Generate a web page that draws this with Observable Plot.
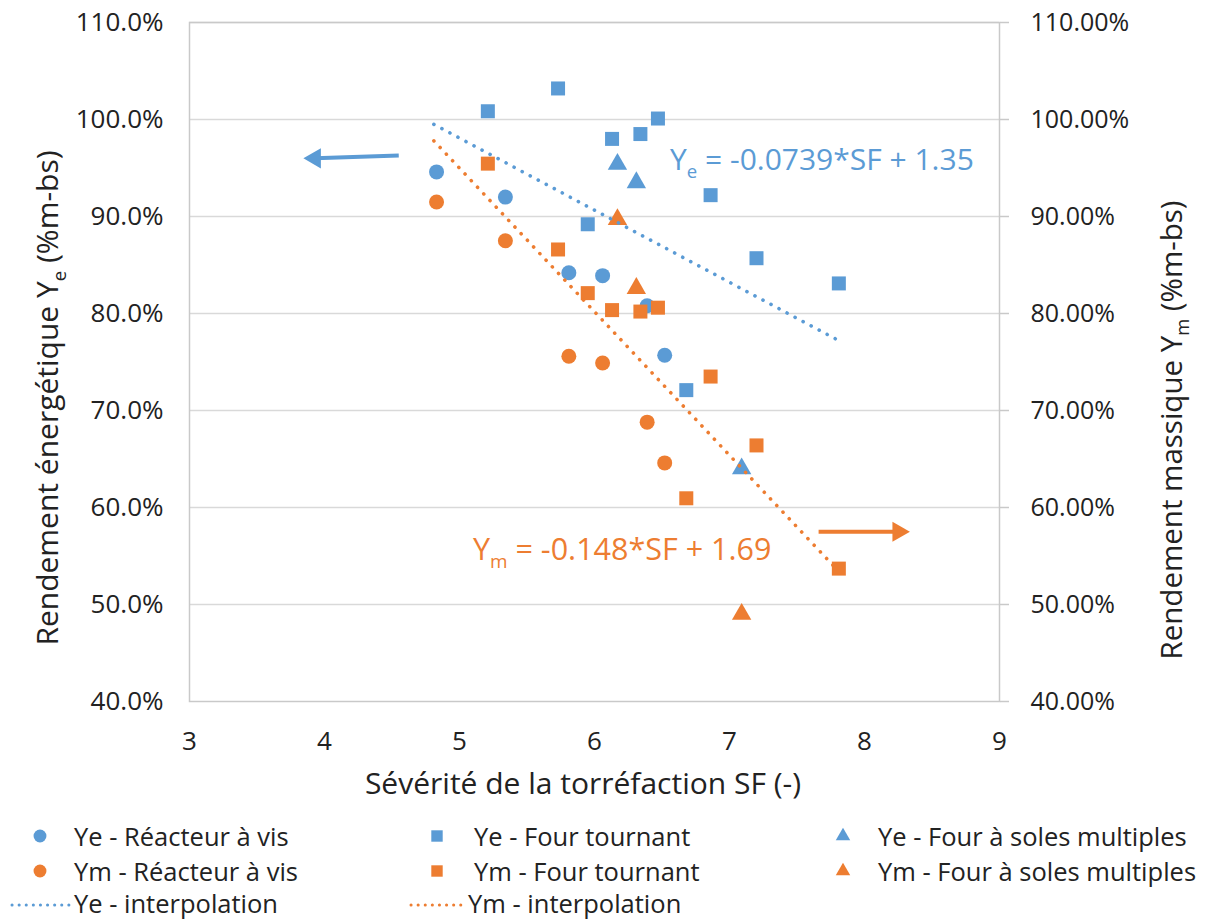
<!DOCTYPE html>
<html><head><meta charset="utf-8">
<script src="https://cdn.jsdelivr.net/npm/d3@7"></script>
<script src="https://cdn.jsdelivr.net/npm/@observablehq/plot@0.6"></script>
<style>
body{margin:0;background:#fff;font-family:"Open Sans",sans-serif;}
#wrap{position:relative;width:1210px;height:924px;overflow:hidden;}
#chart{position:absolute;left:0;top:0;}
.lt{position:absolute;font-size:25.5px;color:#222;white-space:nowrap;line-height:1.2;transform:translateY(-50%);}
#legsw{position:absolute;left:0;top:0;}
</style></head><body><div id="wrap"><div id="chart"></div><svg id="legsw" width="1210" height="924"></svg></div>
<script>
const BLUE = "#5B9BD5", ORANGE = "#ED7D31";

// Sévérité de la torréfaction SF (-) per reactor
const sfVis = [4.83, 5.34, 5.81, 6.06, 6.39, 6.52];
const yeVis = [94.6, 92.0, 84.2, 83.9, 80.8, 75.7];
const ymVis = [91.5, 87.5, 75.6, 74.9, 68.8, 64.6];

const sfTournant = [5.21, 5.73, 5.95, 6.13, 6.34, 6.47, 6.68, 6.86, 7.20, 7.81];
const yeTournant = [100.85, 103.2, 89.2, 98.0, 98.5, 100.1, 72.1, 92.2, 85.7, 83.1];
const ymTournant = [95.45, 86.6, 82.1, 80.35, 80.2, 80.6, 60.95, 73.5, 66.4, 53.7];

const sfSoles = [6.17, 6.31, 7.09];
const yeSoles = [95.4, 93.5, 64.0];
const ymSoles = [89.7, 82.6, 49.0];

// trend lines (interpolation), endpoints
const trendSF = [4.81, 7.81];
const trendYe = [99.5, 77.2];
const trendYm = [97.8, 53.4];

// annotation arrows
const arrowYe = {x1: 4.55, x2: 3.93, y1: 96.3, y2: 96.0};
const arrowYm = {x1: 7.66, x2: 8.25, y1: 57.5, y2: 57.5};

const xTicks = [3, 4, 5, 6, 7, 8, 9];
const yTicks = [40, 50, 60, 70, 80, 90, 100, 110];
const gridY = [50, 60, 70, 80, 90, 100, 110];

const seriesDefs = [
  {name: "Ye - Réacteur à vis", sf: sfVis, v: yeVis, symbol: "circle", color: BLUE, r: 7.5},
  {name: "Ye - Four tournant", sf: sfTournant, v: yeTournant, symbol: "square", color: BLUE, r: 7.9},
  {name: "Ye - Four à soles multiples", sf: sfSoles, v: yeSoles, symbol: "triangle", color: BLUE, r: 7.2},
  {name: "Ym - Réacteur à vis", sf: sfVis, v: ymVis, symbol: "circle", color: ORANGE, r: 7.5},
  {name: "Ym - Four tournant", sf: sfTournant, v: ymTournant, symbol: "square", color: ORANGE, r: 7.9},
  {name: "Ym - Four à soles multiples", sf: sfSoles, v: ymSoles, symbol: "triangle", color: ORANGE, r: 7.2}
];

const dotMarks = seriesDefs.map(s => {
  const rows = s.sf.map((x, i) => ({x, y: s.v[i]}));
  return Plot.dot(rows, {x: "x", y: "y", symbol: () => s.symbol, fill: s.color, r: s.r, stroke: "none"});
});

const trendRowsYe = trendSF.map((x, i) => ({x, y: trendYe[i]}));
const trendRowsYm = trendSF.map((x, i) => ({x, y: trendYm[i]}));

const chart = Plot.plot({
  width: 1210, height: 805,
  marginLeft: 189, marginRight: 211, marginTop: 22, marginBottom: 104,
  x: {domain: [3, 9]},
  y: {domain: [40, 110]},
  style: {fontFamily: "Open Sans", fontSize: "25px", color: "#222", background: "white", overflow: "visible"},
  marks: [
    Plot.ruleY(gridY, {stroke: "#d9d9d9", strokeWidth: 1.5}),
    Plot.frame({stroke: "#c9c9c9", strokeWidth: 1.5}),
    Plot.axisX({ticks: xTicks, tickSize: 0, tickPadding: 30, label: null, fill: "#222", fontSize: 26, tickFormat: d => String(d)}),
    Plot.axisY({anchor: "left", ticks: yTicks, tickSize: 0, tickPadding: 26, label: null, fill: "#222", fontSize: 26, tickFormat: d => d.toFixed(1) + "%"}),
    Plot.axisY({anchor: "right", ticks: yTicks, tickSize: 9, tickPadding: 22, label: null, stroke: "#c9c9c9", strokeWidth: 1.5, fill: "#222", fontSize: 25, tickFormat: d => d.toFixed(2) + "%"}),
    ...dotMarks,
    Plot.line(trendRowsYe, {x: "x", y: "y", stroke: BLUE, strokeWidth: 3.6, strokeDasharray: "0.1 9", strokeLinecap: "round"}),
    Plot.line(trendRowsYm, {x: "x", y: "y", stroke: ORANGE, strokeWidth: 3.6, strokeDasharray: "0.1 9", strokeLinecap: "round"}),
    Plot.link([arrowYe], {x1: "x1", y1: "y1", x2: "x2", y2: "y2", stroke: BLUE, strokeWidth: 4}),
    Plot.dot([arrowYe], {x: "x2", y: "y2", symbol: "triangle", rotate: -90, r: 7.5, fill: BLUE, stroke: "none"}),
    Plot.link([arrowYm], {x1: "x1", y1: "y1", x2: "x2", y2: "y2", stroke: ORANGE, strokeWidth: 4}),
    Plot.dot([arrowYm], {x: "x2", y: "y2", symbol: "triangle", rotate: 90, r: 7.5, fill: ORANGE, stroke: "none"})
  ]
});
document.getElementById("chart").appendChild(chart);

// rich texts with subscripts
const svg = d3.select(chart);
function rich(x, y, parts, {size = 25, color = "#222", rotate = 0, anchor = "middle"} = {}) {
  const t = svg.append("text")
    .attr("transform", `translate(${x},${y}) rotate(${rotate})`)
    .attr("text-anchor", anchor)
    .attr("font-family", "Open Sans")
    .attr("font-size", size)
    .attr("fill", color);
  parts.forEach(p => {
    const s = t.append("tspan").text(p.t);
    if (p.sub) s.attr("font-size", size * 0.62).attr("dy", size * 0.25);
    else if (p.after) s.attr("dy", -size * 0.25);
  });
  return t;
}
rich(583, 794, [{t: "Sévérité de la torréfaction SF (-)"}], {size: 30});
rich(58, 398, [{t: "Rendement énergétique Y"}, {t: "e", sub: true}, {t: " (%m-bs)", after: true}], {size: 30, rotate: -90});
rich(1182, 430, [{t: "Rendement massique Y"}, {t: "m", sub: true}, {t: " (%m-bs)", after: true}], {size: 29.5, rotate: -90});
rich(670, 170, [{t: "Y"}, {t: "e", sub: true}, {t: " = -0.0739*SF + 1.35", after: true}], {size: 30, color: BLUE, anchor: "start"});
rich(473, 560, [{t: "Y"}, {t: "m", sub: true}, {t: " = -0.148*SF + 1.69", after: true}], {size: 30.5, color: ORANGE, anchor: "start"});

// legend
const wrap = document.getElementById("wrap");
const sw = d3.select("#legsw");
const legItems = [
  {i: 0, mx: 40, tx: 74, y: 836}, {i: 1, mx: 437, tx: 474, y: 836}, {i: 2, mx: 843, tx: 878, y: 836},
  {i: 3, mx: 40, tx: 74, y: 871}, {i: 4, mx: 437, tx: 474, y: 871}, {i: 5, mx: 843, tx: 878, y: 871}
];
legItems.forEach(it => {
  const s = seriesDefs[it.i];
  const sym = s.symbol === "circle" ? d3.symbolCircle : s.symbol === "square" ? d3.symbolSquare : d3.symbolTriangle2;
  const size = s.symbol === "circle" ? 130 : s.symbol === "square" ? 130 : 150;
  sw.append("path").attr("d", d3.symbol(sym, size)()).attr("transform", `translate(${it.mx},${it.y})`).attr("fill", s.color);
  const d = document.createElement("div");
  d.className = "lt"; d.style.left = it.tx + "px"; d.style.top = it.y + "px"; d.textContent = s.name;
  wrap.appendChild(d);
});
[{x1: 12, x2: 70, tx: 74, color: BLUE, name: "Ye - interpolation"}, {x1: 411, x2: 465, tx: 468, color: ORANGE, name: "Ym - interpolation"}].forEach(l => {
  sw.append("line").attr("x1", l.x1).attr("x2", l.x2).attr("y1", 905).attr("y2", 905)
    .attr("stroke", l.color).attr("stroke-width", 3).attr("stroke-dasharray", "0.1 7").attr("stroke-linecap", "round");
  const d = document.createElement("div");
  d.className = "lt"; d.style.left = l.tx + "px"; d.style.top = "903px"; d.textContent = l.name;
  wrap.appendChild(d);
});
</script></body></html>
